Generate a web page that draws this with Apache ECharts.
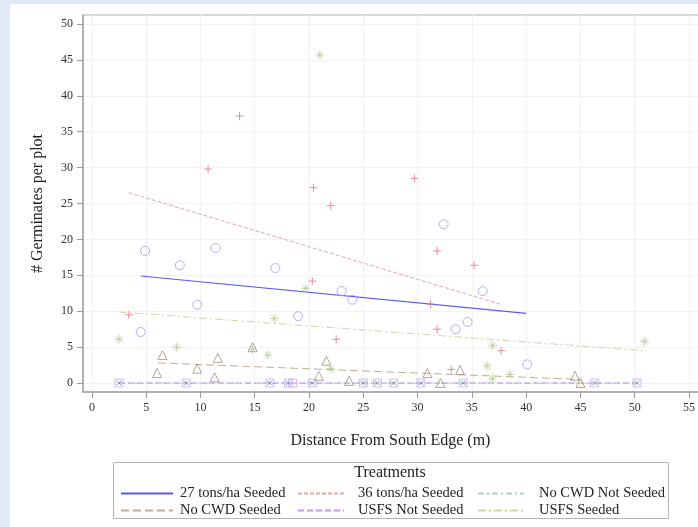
<!DOCTYPE html>
<html>
<head>
<meta charset="utf-8">
<script src="https://cdn.jsdelivr.net/npm/echarts@6/dist/echarts.min.js"></script>
<style>
  html, body { margin: 0; padding: 0; background: #fff; }
  #chart { width: 698px; height: 527px; }
</style>
</head>
<body>
<div id="chart"></div>
<script>
// tick labels
var xTicks = [0, 5, 10, 15, 20, 25, 30, 35, 40, 45, 50, 55];
var yTicks = [0, 5, 10, 15, 20, 25, 30, 35, 40, 45, 50];

// observed points [distance, germinates]
var tons27Pts = [[4.9, 18.4], [8.1, 16.4], [11.4, 18.8], [16.9, 16.0], [9.7, 10.9], [4.5, 7.1], [23.0, 12.8],
  [24.0, 11.6], [19.0, 9.3], [32.4, 22.1], [33.5, 7.5], [34.6, 8.5], [36.0, 12.8], [40.1, 2.6]];
var tons36Pts = [[13.6, 37.2], [10.7, 29.8], [20.4, 27.2], [29.7, 28.5], [22.0, 24.7], [31.8, 18.4], [35.2, 16.4],
  [20.3, 14.2], [31.2, 11.0], [31.8, 7.5], [3.4, 9.5], [22.5, 6.1], [33.1, 1.9], [37.7, 4.5]];
var noCwdNotPts = [[2.5, 0], [8.7, 0], [16.4, 0], [18.1, 0], [20.3, 0], [25.0, 0], [26.3, 0], [27.8, 0],
  [30.3, 0], [34.2, 0], [46.3, 0], [50.2, 0]];
var noCwdSeedPts = [[6.5, 3.9], [6.0, 1.4], [9.7, 2.0], [11.6, 3.5], [11.3, 0.8], [14.8, 5.0], [21.6, 3.1],
  [20.9, 1.0], [23.7, 0.3], [30.9, 1.4], [33.9, 1.8], [32.1, 0.0], [44.5, 1.0], [45.0, 0.0]];
var usfsNotPts = [[2.5, 0], [8.7, 0], [16.4, 0], [18.1, 0], [18.5, 0], [20.3, 0], [25.0, 0], [26.3, 0],
  [27.8, 0], [30.3, 0], [34.2, 0], [46.3, 0], [50.2, 0]];
var usfsSeedPts = [[21.0, 45.7], [2.5, 6.1], [7.8, 5.0], [16.8, 9.0], [14.8, 4.7], [16.2, 3.9], [19.7, 13.2],
  [22.0, 2.0], [36.9, 5.2], [36.4, 2.4], [36.9, 0.6], [38.5, 1.2], [50.9, 5.8]];

// fitted lines, start and end
var tons27Fit = [[4.5, 14.9], [40.0, 9.7]];
var tons36Fit = [[3.4, 26.5], [37.8, 10.9]];
var noCwdNotFit = [[2.5, 0], [50.2, 0]];
var noCwdSeedFit = [[6.1, 2.8], [45.0, 0.5]];
var usfsNotFit = [[2.5, 0], [50.2, 0]];
var usfsSeedFit = [[2.5, 9.9], [50.9, 4.5]];

var serif = "Liberation Serif";

var myChart = echarts.init(document.getElementById("chart"));

function fitLine(name, data, color, type, width) {
  return {
    name: name,
    type: "line",
    data: data,
    symbol: "none",
    silent: true,
    z: 2,
    lineStyle: { color: color, type: type, width: width || 1 }
  };
}

function dots(name, data, symbol, color, size) {
  return {
    name: name,
    type: "scatter",
    data: data,
    symbol: symbol,
    symbolSize: size || 8,
    z: 3,
    itemStyle: { color: "rgba(0,0,0,0)", borderColor: color, borderWidth: 1 }
  };
}

var plusPath = "path://M5 0L5 10M0 5L10 5";
var starPath = "path://M5 0L5 10M0 5L10 5M1.5 1.5L8.5 8.5M8.5 1.5L1.5 8.5";
var triPath = "path://M5 0L10 9L0 9Z";
var sqPath = "path://M0 0L10 0L10 10L0 10Z";
var xPath = "path://M0 0L10 10M10 0L0 10";

function legendCol(left, width, textPad, names) {
  return {
    orient: "vertical",
    left: left,
    top: 481,
    itemWidth: width,
    itemHeight: 10,
    itemGap: 2,
    itemStyle: { opacity: 0 },
    data: names,
    textStyle: { fontFamily: serif, fontSize: 14.5, color: "#222", padding: [0, 0, 0, textPad] }
  };
}

var option = {
  backgroundColor: "#fff",
  animation: false,
  textStyle: { fontFamily: serif },
  graphic: [
    { type: "rect", shape: { x: 0, y: 0, width: 10, height: 527 }, style: { fill: "#dfe9f5" } },
    { type: "rect", shape: { x: 0, y: 0, width: 698, height: 4 }, style: { fill: "#dfe9f5" } },
    { type: "rect", shape: { x: 113.5, y: 462.5, width: 555, height: 56 }, style: { fill: "none", stroke: "#b5b5b5", lineWidth: 1 } },
    { type: "line", shape: { x1: 83, y1: 15, x2: 698, y2: 15 }, style: { stroke: "#d6d6d6", lineWidth: 2 } }
  ],
  title: {
    text: "Treatments",
    left: 385,
    top: 460,
    textAlign: "center",
    textStyle: { fontFamily: serif, fontSize: 16, fontWeight: "normal", color: "#222" }
  },
  legend: [
    legendCol(115, 52, 2, ["27 tons/ha Seeded", "No CWD Seeded"]),
    legendCol(292, 46, 9, ["36 tons/ha Seeded", "USFS Not Seeded"]),
    legendCol(472, 46, 10, ["No CWD Not Seeded", "USFS Seeded"])
  ],
  grid: { left: 83, top: 15, right: -3, bottom: 135, containLabel: false },
  xAxis: {
    type: "value",
    min: -0.82,
    max: 55.82,
    interval: 5,
    name: "Distance From South Edge (m)",
    nameLocation: "middle",
    nameGap: 41,
    nameTextStyle: { fontFamily: serif, fontSize: 16, color: "#222" },
    axisLine: { onZero: false, lineStyle: { color: "#999", width: 1.5 } },
    axisTick: { customValues: xTicks, length: 6, lineStyle: { color: "#999" } },
    axisLabel: { customValues: xTicks, margin: 10, fontFamily: serif, fontSize: 12, color: "#333" },
    splitLine: { show: true, lineStyle: { color: "#f2f2f2" } }
  },
  yAxis: {
    type: "value",
    min: -1.25,
    max: 51.25,
    interval: 5,
    name: "# Germinates per plot",
    nameLocation: "middle",
    nameGap: 37,
    nameTextStyle: { fontFamily: serif, fontSize: 16, color: "#222" },
    axisLine: { show: true, onZero: false, lineStyle: { color: "#999", width: 1.5 } },
    axisTick: { show: true, customValues: yTicks, length: 6, lineStyle: { color: "#999" } },
    axisLabel: { customValues: yTicks, margin: 10, fontFamily: serif, fontSize: 12, color: "#333" },
    splitLine: { show: true, lineStyle: { color: "#f2f2f2" } }
  },
  series: [
    fitLine("27 tons/ha Seeded", tons27Fit, "#5a5af0", "solid", 1.2),
    fitLine("36 tons/ha Seeded", tons36Fit, "#eba3ab", [4, 2]),
    fitLine("No CWD Not Seeded", noCwdNotFit, "#a9d3cf", [6, 3, 2, 3]),
    fitLine("No CWD Seeded", noCwdSeedFit, "#c4ad98", [8, 4]),
    fitLine("USFS Not Seeded", usfsNotFit, "#c993ee", [6, 3]),
    fitLine("USFS Seeded", usfsSeedFit, "#d5d5a5", [8, 3, 2, 3]),
    dots("27 tons/ha Seeded obs", tons27Pts, "circle", "#9c9cf6", 9),
    dots("36 tons/ha Seeded obs", tons36Pts, plusPath, "#e07488", 8),
    dots("USFS Not Seeded obs", usfsNotPts, sqPath, "#cda6f2", 8),
    dots("No CWD Not Seeded obs", noCwdNotPts, xPath, "#40a080", 5),
    dots("No CWD Seeded obs", noCwdSeedPts, triPath, "#a48f7e", 9),
    dots("USFS Seeded obs", usfsSeedPts, starPath, "#b9c99a", 9)
  ]
};

myChart.setOption(option);
window.addEventListener("resize", function () {
  myChart.resize();
});
</script>
</body>
</html>
